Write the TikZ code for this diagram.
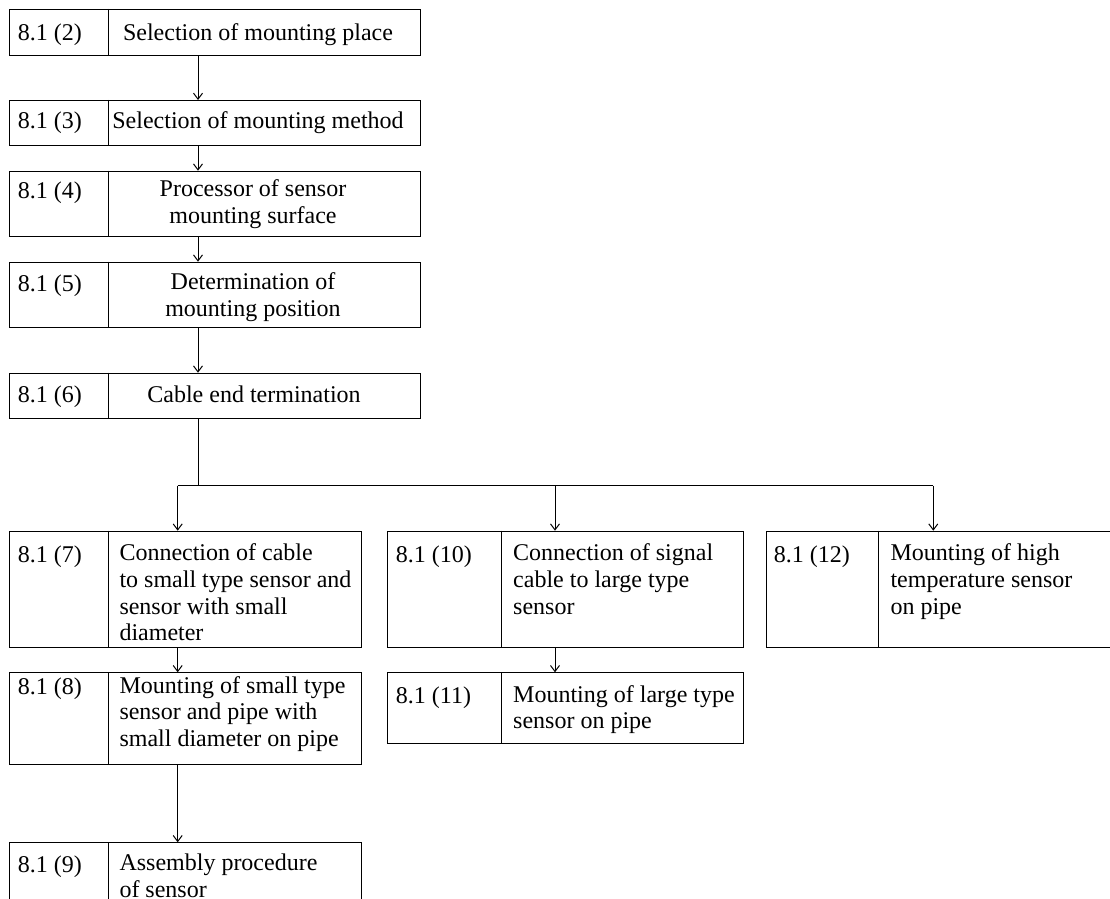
\documentclass[tikz,border=0pt]{standalone}
\usepackage{fontspec}
\setmainfont{Liberation Serif}
\usetikzlibrary{arrows.meta,calc}
\begin{document}
\begin{tikzpicture}[x=0.5pt,y=-0.5pt,
  line width=0.5pt,
  box/.style={draw, inner sep=0pt, anchor=north west},
  txt/.style={inner sep=0pt, font=\fontsize{12}{13.33}\selectfont, execute at begin node=\strut},
  lt/.style={txt, anchor=north west, align=left},
  ct/.style={txt, anchor=north, align=center},
  arr/.style={-{Straight Barb[length=3pt,width=4.5pt]}}]
\useasboundingbox (0,0) rectangle (1110,899);

% boxes
\node[box, minimum width=205.5pt, minimum height=23pt]   (bA) at (9,9) {};
\node[box, minimum width=205.5pt, minimum height=22.5pt] (bB) at (9,100) {};
\node[box, minimum width=205.5pt, minimum height=32.5pt] (bC) at (9,170.7) {};
\node[box, minimum width=205.5pt, minimum height=32.5pt] (bD) at (9,261.7) {};
\node[box, minimum width=205.5pt, minimum height=22.8pt] (bE) at (9,372.7) {};
\node[box, minimum width=176pt, minimum height=58pt]     (b7) at (9,530.7) {};
\node[box, minimum width=178pt, minimum height=58pt]     (b10) at (387,530.7) {};
\node[box, minimum width=180pt, minimum height=58pt]     (b12) at (765.5,530.7) {};
\node[box, minimum width=176pt, minimum height=46pt]     (b8) at (9,672.3) {};
\node[box, minimum width=178pt, minimum height=35.5pt]   (b11) at (387,672.3) {};
\node[box, minimum width=176pt, minimum height=40pt]     (b9) at (9,842.3) {};

% dividers
\foreach \b/\d in {bA/99,bB/99,bC/99,bD/99,bE/99,b7/99,b8/99,b9/99,b10/114,b11/114,b12/113.1}
  \draw ($(\b.north west)+(\d,0)$) -- ($(\b.south west)+(\d,0)$);

% labels
\node[lt] (lA) at (17.3,21.3) {8.1 (2)};
\node[lt] (lB) at (17.3,109.7) {8.1 (3)};
\node[lt] (lC) at (17.3,179.3) {8.1 (4)};
\node[lt] (lD) at (17.3,272.3) {8.1 (5)};
\node[lt] (lE) at (17.3,383.8) {8.1 (6)};
\node[lt] (l7) at (17.3,543.3) {8.1 (7)};
\node[lt] (l8) at (17.3,675.6) {8.1 (8)};
\node[lt] (l9) at (17.3,853.6) {8.1 (9)};
\node[lt] (l10) at (395.4,543.3) {8.1 (10)};
\node[lt] (l11) at (395.4,684.6) {8.1 (11)};
\node[lt] (l12) at (773.4,543.3) {8.1 (12)};

% texts
\node[ct] (tA) at (258,21.3) {Selection of mounting place};
\node[ct] (tB) at (258,109.7) {Selection of mounting method};
\node[ct] (tC) at (253,179.3) {Processor of sensor\\mounting surface};
\node[ct] (tD) at (253,272.3) {Determination of\\mounting position};
\node[ct] (tE) at (254,383.8) {Cable end termination};
\node[lt] (t7) at (119,543.3) {Connection of cable\\to small type sensor and\\sensor with small\\diameter};
\node[lt] (t8) at (119,675.6) {Mounting of small type\\sensor and pipe with\\small diameter on pipe};
\node[lt] (t9) at (119,853.6) {Assembly procedure\\of sensor};
\node[lt] (t10) at (512.7,543.3) {Connection of signal\\cable to large type\\sensor};
\node[lt] (t11) at (512.7,684.6) {Mounting of large type\\sensor on pipe};
\node[lt] (t12) at (890,543.3) {Mounting of high\\temperature sensor\\on pipe};

% connectors
\coordinate (cx) at (198,0);
\coordinate (j)  at (198,485.7);
\coordinate (jl) at (177.7,485.7);
\coordinate (jm) at (555,485.7);
\coordinate (jr) at (933.3,485.7);
\draw[arr] (bA.south -| cx) -- (bB.north -| cx);
\draw[arr] (bB.south -| cx) -- (bC.north -| cx);
\draw[arr] (bC.south -| cx) -- (bD.north -| cx);
\draw[arr] (bD.south -| cx) -- (bE.north -| cx);
\draw (bE.south -| cx) -- (j);
\draw (jl) -- (jr);
\draw[arr] (jl) -- (jl |- b7.north);
\draw[arr] (jm) -- (jm |- b10.north);
\draw[arr] (jr) -- (jr |- b12.north);
\draw[arr] (b7.south -| jl) -- (b8.north -| jl);
\draw[arr] (b8.south -| jl) -- (b9.north -| jl);
\draw[arr] (b10.south -| jm) -- (b11.north -| jm);
\end{tikzpicture}
\end{document}
